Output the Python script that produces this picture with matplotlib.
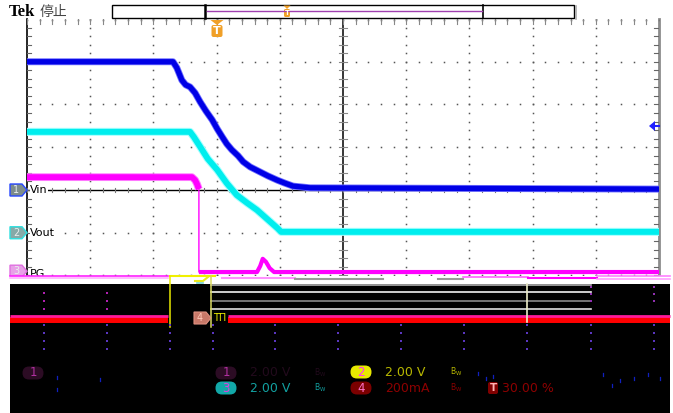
import matplotlib
matplotlib.use('Agg')
import matplotlib.pyplot as plt
import numpy as np
from matplotlib.patches import Polygon, Rectangle, FancyBboxPatch

# waveforms, in divisions (x: 0..10, y: centre line = 0)
vin_t = [0.0, 2.31, 2.37, 2.45, 2.51, 2.58, 2.66, 2.74, 2.83, 2.93, 3.01, 3.09,
         3.16, 3.24, 3.34, 3.42, 3.53, 3.69, 3.81, 3.96, 4.08, 4.21, 4.48, 10.0]
vin_v = [3.0, 3.0, 2.86, 2.57, 2.46, 2.41, 2.27, 2.06, 1.85, 1.64, 1.43, 1.24,
         1.08, 0.94, 0.80, 0.66, 0.54, 0.42, 0.33, 0.23, 0.16, 0.09, 0.05, 0.02]

vout_t = [0.0, 2.58, 2.64, 2.74, 2.86, 3.01, 3.16, 3.32, 3.48, 3.64, 3.80, 3.96, 4.02, 10.0]
vout_v = [1.36, 1.36, 1.24, 1.01, 0.73, 0.47, 0.16, -0.12, -0.30, -0.47, -0.68, -0.89, -0.98, -0.98]

pg_t = [0.0, 2.61, 2.66, 2.69, 2.72, 2.72, 3.64, 3.69, 3.73, 3.78, 3.84, 3.91, 10.0]
pg_v = [0.30, 0.30, 0.23, 0.14, 0.02, -1.92, -1.92, -1.78, -1.61, -1.68, -1.83, -1.92, -1.92]
pg_edge = 4  # PG falls between index 4 and 5

labels = ['Vin', 'Vout', 'PG']
label_v = [0.0, -1.0, -1.97]
flag_num = ['1', '2', '3']

# readout row below the screen
ch_nums = ['1', '3', '2', '4']
ch_scale = ['2.00 V', '2.00 V', '2.00 V', '200mA']
trig_level = '30.00 %'

W, H = 673, 413
fig = plt.figure(figsize=(W / 100, H / 100), dpi=100)
fig.patch.set_facecolor('white')

# ---- the graticule ---------------------------------------------------------
ax = fig.add_axes([27 / W, (H - 284) / H, 632 / W, 265 / H])
ax.set_xlim(0, 10)
ax.set_ylim(-2.2, 4.0)
ax.set_axis_off()

fine_t = np.arange(0, 10.01, 0.2)
fine_v = np.arange(-2.2, 4.01, 0.2)
for gx in [1, 2, 3, 4, 6, 7, 8, 9]:
    ax.plot(np.full_like(fine_v, gx), fine_v, 's', ms=1.1, color='#555555', mew=0)
for gy in [3, 2, 1, -1, -2]:
    ax.plot(fine_t, np.full_like(fine_t, gy), 's', ms=1.1, color='#555555', mew=0)

ax.axvline(5, color='black', lw=1.1)
ax.axhline(0, color='black', lw=1.0)
ax.plot([0, 0], [-2.2, 4], color='black', lw=1.2, clip_on=False)
ax.plot([10, 10], [-2.2, 4], color='#8c8c8c', lw=2.0, clip_on=False)
ax.plot(fine_t, np.full_like(fine_t, 3.97), 's', ms=1.2, color='#777777', mew=0)
for v in np.arange(-2.0, 4.0, 0.2):
    ax.plot([4.94, 5.06], [v, v], color='#888888', lw=0.8)
    ax.plot([0, 0.06], [v, v], color='#666666', lw=0.8)
    ax.plot([9.92, 10], [v, v], color='#666666', lw=0.8)
for t in fine_t:
    ax.plot([t, t], [-0.05, 0.05], color='#777777', lw=0.8)
    ax.plot([t, t], [3.88, 4.0], color='#888888', lw=0.8)

# traces: a pale band under a solid core gives the noisy look
ax.plot(vin_t, vin_v, color='#7070ff', lw=5.0, solid_joinstyle='round')
ax.plot(vin_t, vin_v, color='#0000e6', lw=3.8, solid_joinstyle='round')
ax.plot(vout_t, vout_v, color='#a8ffff', lw=5.8, solid_joinstyle='round')
ax.plot(vout_t, vout_v, color='#00eeee', lw=4.3, solid_joinstyle='round')
ax.plot(pg_t, pg_v, color='#ff00ff', lw=1.0)
ax.plot(pg_t[:pg_edge + 1], pg_v[:pg_edge + 1], color='#ff80ff', lw=5.6, solid_capstyle='butt')
ax.plot(pg_t[:pg_edge + 1], pg_v[:pg_edge + 1], color='#ff00ff', lw=4.2, solid_capstyle='butt')
ax.plot(pg_t[pg_edge + 1:], pg_v[pg_edge + 1:], color='#ff00ff', lw=3.0, solid_capstyle='butt')

# ---- everything around it, in pixels ---------------------------------------
ov = fig.add_axes([0, 0, 1, 1], zorder=3)
ov.set_xlim(0, W)
ov.set_ylim(H, 0)
ov.set_axis_off()
ov.patch.set_alpha(0)

ov.text(9, 12, 'Tek', fontsize=12, fontweight='bold', family='Liberation Serif',
        va='center', ha='left')
ov.text(40, 12, '停止', fontsize=10, family=['Noto Sans CJK SC', 'DejaVu Sans'],
        va='center', ha='left', color='#444444')

ov.add_patch(Rectangle((112, 5), 462, 12.5, fc='white', ec='black', lw=1))
ov.plot([575.5, 575.5], [6, 19], color='#aaaaaa', lw=1.2)
ov.plot([205, 205], [5, 17.5], color='black', lw=1.8)
ov.plot([483, 483], [5, 17.5], color='black', lw=1.2)
ov.plot([207, 482], [11.3, 11.3], color='#a040b0', lw=1)
orange = '#f0a028'
ov.add_patch(Polygon([(283.5, 5.5), (290.5, 5.5), (287, 9)], fc=orange, ec='none'))
ov.add_patch(FancyBboxPatch((284, 9), 6, 8, boxstyle='round,pad=0,rounding_size=1.5',
                            fc=orange, ec='none'))
ov.text(287, 13.2, 'T', fontsize=5, color='white', ha='center', va='center', fontweight='bold')
ov.add_patch(Polygon([(210.5, 20), (223.5, 20), (217, 25)], fc=orange, ec='none'))
ov.add_patch(FancyBboxPatch((211.5, 25), 11, 12, boxstyle='round,pad=0,rounding_size=2',
                            fc=orange, ec='none'))
ov.text(217, 31.5, 'T', fontsize=8, color='white', ha='center', va='center', fontweight='bold')

# right-hand level arrow
ov.add_patch(Polygon([(649, 126), (655, 121), (655, 131)], fc='#2020ff', ec='none'))
ov.plot([654, 659], [126, 126], color='#2020ff', lw=1.5)

# channel flags and names
flag_face = ['#7d8c8c', '#86aaa8', '#e8a0e8']
flag_edge = ['#2848ff', '#30e0e0', '#e070e0']
for name, v, num, fc, ec in zip(labels, label_v, flag_num, flag_face, flag_edge):
    y = 190 - v * 42.74
    z = 0.5 if name == 'PG' else 4
    fy = y - 3 if name == 'PG' else y
    ov.add_patch(Polygon([(10, fy - 6), (22, fy - 6), (27, fy), (22, fy + 6), (10, fy + 6)],
                         fc=fc, ec=ec, lw=1, zorder=z))
    ov.text(16, fy, num, fontsize=7, color='#e8eeee', ha='center', va='center', zorder=z)
    ov.text(30, y, name, fontsize=8, ha='left', va='center', zorder=z,
            bbox=dict(fc='white', ec='none', pad=0.3))

# strip between the graticule and the black panel
ov.add_patch(Rectangle((0, 275.5), W, 8.5, fc='white', ec='none', zorder=1))
ov.plot([10, 168], [276, 276], color='#ff20ff', lw=1.2, zorder=2)
ov.plot([10, 168], [278.3, 278.3], color='#ffb0ff', lw=1.2, zorder=2)
ov.plot([170, 215], [276, 276], color='#f0f000', lw=1.5, zorder=2)
ov.plot([195, 203, 208], [281, 281, 277], color='#e8e820', lw=1.5, zorder=2)
ov.plot([197, 203], [282.5, 282.5], color='#70d0d0', lw=1.2, zorder=2)
ov.plot([222, 295], [278, 278], color='#ff90ff', lw=1.5, zorder=2)
ov.plot([295, 383], [278.5, 278.5], color='#999999', lw=1.5, zorder=2)
ov.plot([438, 463], [278.5, 278.5], color='#999999', lw=1.5, zorder=2)
ov.plot([463, 528], [276.5, 276.5], color='#ff60ff', lw=1.2, zorder=2)
ov.plot([528, 597], [277.5, 277.5], color='#ff00ff', lw=1.5, zorder=2)
ov.plot([597, 670], [275.5, 275.5], color='#ff80ff', lw=1.2, zorder=2)
ov.plot([597, 670], [279, 279], color='#ffa0ff', lw=1.2, zorder=2)

# black panel
ov.add_patch(Rectangle((10, 284), 660, 130, fc='black', ec='none', zorder=1))
for y, c in [(284.5, '#b0b0b0'), (292, '#f0f0f0'), (301, '#8a8a8a'), (309, '#e0e0e0')]:
    ov.plot([211, 591], [y, y], color=c, lw=1.2, zorder=2)
for x0, x1 in [(10, 168), (228, 670)]:
    ov.plot([x0, x1], [320, 320], color='#ff0000', lw=4.3, zorder=2, solid_capstyle='butt')
    ov.plot([x0, x1], [316, 316], color='#ff1a9a', lw=2.0, zorder=2, solid_capstyle='butt')
ov.plot([170, 170], [276, 327], color='#e8e800', lw=1.1, zorder=3)
ov.plot([211, 211], [276, 327], color='#d8d860', lw=1.1, zorder=3)
ov.plot([527, 527], [284, 322], color='#ececc8', lw=1.2, zorder=3)

dot_x = [44, 107, 170, 213, 275, 338, 401, 464, 527, 591, 654]
for x in dot_x:
    ov.scatter([x] * 4, [325, 333, 341, 349], s=2.5, marker='s', color='#5a36c0',
               lw=0, zorder=3)
for x in [44, 107]:
    ov.scatter([x] * 3, [293, 301, 309], s=2.5, marker='s', color='#b020b0', lw=0, zorder=3)
for x in [591, 654]:
    ov.scatter([x] * 3, [287, 294, 301], s=2.5, marker='s', color='#9030b0', lw=0, zorder=3)

ov.add_patch(Polygon([(194, 312), (206, 312), (211, 318), (206, 324), (194, 324)],
                     fc='#c87868', ec='#e09080', lw=0.8, zorder=4))
ov.text(200, 318, '4', fontsize=7, color='#ffc8b8', ha='center', va='center', zorder=5)
ov.text(213, 318, 'TΠ', fontsize=7, color='#f0f000', ha='left', va='center', zorder=5)

# readouts
def oval(x, y, num, fc, tc):
    ov.add_patch(FancyBboxPatch((x - 10.5, y - 6.5), 21, 13,
                                boxstyle='round,pad=0,rounding_size=6.5',
                                fc=fc, ec='none', zorder=4))
    ov.text(x, y, num, fontsize=8.5, color=tc, ha='center', va='center', zorder=5)

oval(33, 373, '1', '#2c0c24', '#b030a0')
oval(226, 373, '1', '#2c0c24', '#b030a0')
oval(226, 388, ch_nums[1], '#12a8a8', '#e040e0')
oval(361, 372, ch_nums[2], '#e8e800', '#ff30ff')
oval(361, 388, ch_nums[3], '#7c0000', '#ff70c8')

scale_pos = [(250, 373), (250, 388), (385, 372), (385, 388)]
scale_col = ['#220a1c', '#12a0a0', '#b8b800', '#8c0000']
for txt, (x, y), c in zip(ch_scale, scale_pos, scale_col):
    ov.text(x, y, txt, fontsize=9, color=c, ha='left', va='center', zorder=5)
bw_pos = [(314, 373), (314, 388), (450, 372), (450, 388)]
for (x, y), c in zip(bw_pos, scale_col):
    ov.text(x, y, r'$\mathregular{B_W}$', fontsize=5.5, color=c, ha='left',
            va='center', zorder=5)

ov.add_patch(FancyBboxPatch((488, 382), 10, 12, boxstyle='round,pad=0,rounding_size=2',
                            fc='#800000', ec='none', zorder=4))
ov.text(493, 388, 'T', fontsize=7.5, color='#ffb0b0', ha='center', va='center',
        fontweight='bold', zorder=5)
ov.text(502, 388, trig_level, fontsize=9, color='#8c0000', ha='left', va='center', zorder=5)

for x, y in [(57, 377), (100, 379), (57, 389), (478, 373), (486, 378), (493, 376),
             (603, 374), (620, 380), (634, 378), (648, 374), (660, 378), (612, 385)]:
    ov.plot([x, x], [y - 1.5, y + 1.5], color='#1020c0', lw=0.9, zorder=3)

fig.savefig('out.png', dpi=100)
